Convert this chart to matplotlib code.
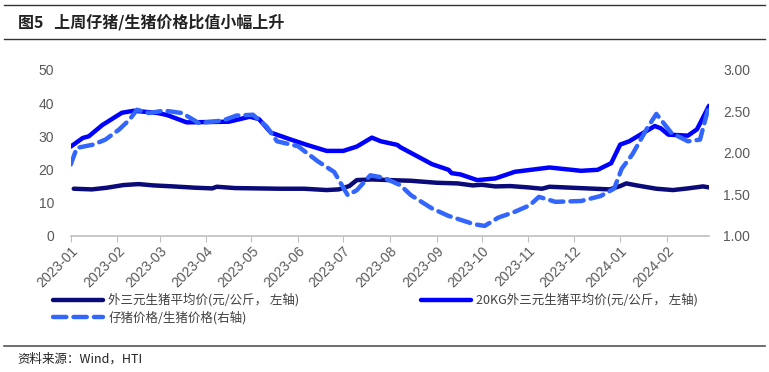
import matplotlib
matplotlib.use('Agg')
from matplotlib import pyplot as plt
import matplotlib.dates as mdates
import pandas as pd

plt.rcParams['font.family'] = ['Noto Sans CJK SC', 'DejaVu Sans']

# 外三元生猪平均价 (元/公斤, 左轴)
pig_dates = ['2023-01-03', '2023-01-15', '2023-01-25', '2023-02-05', '2023-02-15', '2023-02-25',
             '2023-03-10', '2023-03-25', '2023-04-05', '2023-04-08', '2023-04-20', '2023-05-05',
             '2023-05-20', '2023-06-05', '2023-06-20', '2023-06-28', '2023-07-05', '2023-07-10',
             '2023-07-20', '2023-08-01', '2023-08-15', '2023-09-01', '2023-09-15', '2023-09-25',
             '2023-10-01', '2023-10-10', '2023-10-20', '2023-11-01', '2023-11-10', '2023-11-15',
             '2023-11-25', '2023-12-10', '2023-12-25', '2024-01-01', '2024-01-05', '2024-01-12',
             '2024-01-25', '2024-02-05', '2024-02-15', '2024-02-25', '2024-02-29']
pig_price = [14.2, 14.0, 14.5, 15.3, 15.6, 15.2,
             14.9, 14.5, 14.3, 14.8, 14.4, 14.3,
             14.2, 14.2, 13.8, 14.0, 15.0, 16.8,
             17.0, 16.8, 16.6, 16.0, 15.8, 15.2,
             15.4, 14.9, 15.0, 14.6, 14.2, 14.8,
             14.6, 14.3, 14.0, 15.0, 15.8, 15.2,
             14.2, 13.8, 14.3, 14.9, 14.6]

# 20KG外三元生猪平均价 (元/公斤, 左轴)
kg20_dates = ['2023-01-01', '2023-01-09', '2023-01-13', '2023-01-22', '2023-02-04', '2023-02-12',
              '2023-02-28', '2023-03-06', '2023-03-19', '2023-04-16', '2023-04-30', '2023-05-06',
              '2023-05-14', '2023-05-28', '2023-06-07', '2023-06-20', '2023-07-01', '2023-07-10',
              '2023-07-20', '2023-07-26', '2023-08-06', '2023-08-08', '2023-08-29', '2023-09-09',
              '2023-09-11', '2023-09-17', '2023-09-28', '2023-10-10', '2023-10-23', '2023-11-15',
              '2023-12-06', '2023-12-17', '2023-12-26', '2024-01-01', '2024-01-07', '2024-01-24',
              '2024-01-28', '2024-02-02', '2024-02-15', '2024-02-21', '2024-02-29']
kg20_price = [26.9, 29.5, 30.0, 33.4, 37.1, 37.7,
              37.0, 36.4, 34.2, 34.4, 35.9, 35.2,
              31.1, 28.9, 27.4, 25.6, 25.6, 26.9,
              29.6, 28.5, 27.4, 26.7, 21.6, 19.9,
              18.9, 18.5, 16.8, 17.3, 19.3, 20.6,
              19.6, 19.9, 21.9, 27.5, 28.5, 33.1,
              32.4, 30.5, 30.2, 32.1, 39.2]

# 仔猪价格/生猪价格 (右轴)
ratio_dates = ['2023-01-01', '2023-01-05', '2023-01-16', '2023-01-24', '2023-02-02', '2023-02-09',
               '2023-02-14', '2023-02-22', '2023-03-04', '2023-03-16', '2023-03-27', '2023-04-12',
               '2023-04-21', '2023-05-02', '2023-05-11', '2023-05-18', '2023-06-01', '2023-06-14',
               '2023-06-25', '2023-07-04', '2023-07-10', '2023-07-19', '2023-07-28', '2023-08-08',
               '2023-08-15', '2023-08-29', '2023-09-09', '2023-09-26', '2023-10-03', '2023-10-12',
               '2023-10-23', '2023-11-02', '2023-11-08', '2023-11-19', '2023-12-06', '2023-12-19',
               '2023-12-28', '2024-01-02', '2024-01-09', '2024-01-19', '2024-01-25', '2024-02-04',
               '2024-02-15', '2024-02-23', '2024-02-29']
ratio = [1.86, 2.06, 2.10, 2.16, 2.28, 2.40,
         2.52, 2.48, 2.51, 2.48, 2.36, 2.39,
         2.45, 2.46, 2.32, 2.14, 2.08, 1.90,
         1.77, 1.49, 1.55, 1.73, 1.70, 1.61,
         1.49, 1.33, 1.24, 1.14, 1.12, 1.22,
         1.29, 1.37, 1.47, 1.41, 1.42, 1.48,
         1.57, 1.81, 1.98, 2.30, 2.47, 2.24,
         2.14, 2.16, 2.57]

gray = '#595959'
tick_font = ['Liberation Sans', 'DejaVu Sans']

fig = plt.figure(figsize=(7.69, 3.72), dpi=100)
ax = fig.add_axes([0.092, 0.366, 0.830, 0.446])
ax2 = ax.twinx()

l1, = ax.plot(pd.to_datetime(pig_dates), pig_price, color='#0A0A78', lw=3.2,
              solid_capstyle='round', label='外三元生猪平均价(元/公斤， 左轴)')
l2, = ax.plot(pd.to_datetime(kg20_dates), kg20_price, color='#0000FF', lw=3.2,
              solid_capstyle='round', label='20KG外三元生猪平均价(元/公斤， 左轴)')
l3, = ax2.plot(pd.to_datetime(ratio_dates), ratio, color='#3366FF', lw=3.2,
               linestyle=(0, (3, 1.6)), dash_capstyle='round', label='仔猪价格/生猪价格(右轴)')

ax.set_ylim(0, 50)
ax.set_yticks(range(0, 51, 10))
ax2.set_ylim(1, 3)
ax2.set_yticks([1.0, 1.5, 2.0, 2.5, 3.0])
ax2.set_yticklabels(['%.2f' % v for v in [1.0, 1.5, 2.0, 2.5, 3.0]])
ax.set_xlim(pd.Timestamp('2023-01-01'), pd.Timestamp('2024-02-29'))
ax.xaxis.set_major_locator(mdates.MonthLocator())
ax.xaxis.set_major_formatter(mdates.DateFormatter('%Y-%m'))

for a in (ax, ax2):
    for s in a.spines.values():
        s.set_visible(False)
ax.spines['bottom'].set_visible(True)
ax.spines['bottom'].set_color('#BFBFBF')
ax.spines['bottom'].set_linewidth(1.2)

ax.tick_params(axis='y', length=0, pad=12, labelsize=10, labelcolor=gray)
ax2.tick_params(axis='y', length=0, pad=10, labelsize=10, labelcolor=gray)
ax.tick_params(axis='x', length=4, color='#BFBFBF', direction='out', labelsize=10,
               labelcolor=gray, pad=2)
for lab in ax.get_xticklabels():
    lab.set_rotation(45)
    lab.set_ha('right')
    lab.set_rotation_mode('anchor')
for lab in ax.get_xticklabels() + ax.get_yticklabels() + ax2.get_yticklabels():
    lab.set_family(tick_font)

# column-wise fill: first column gets l1 and l3, second column gets l2
fig.legend(handles=[l1, l3, l2], loc='upper left', bbox_to_anchor=(0.063, 0.225), ncol=2,
           frameon=False, fontsize=9, handlelength=4.0, handletextpad=0.4,
           columnspacing=9.7, labelspacing=0.35, labelcolor='#404040', borderaxespad=0)

fig.text(0.023, 0.94, '图5   上周仔猪/生猪价格比值小幅上升', fontsize=11.5, fontweight='bold',
         color='#222222', va='center')
fig.add_artist(plt.Line2D([0.005, 0.995], [0.987, 0.987], color='#333333', lw=1))
fig.add_artist(plt.Line2D([0.005, 0.995], [0.895, 0.895], color='#333333', lw=1))
fig.add_artist(plt.Line2D([0.005, 0.995], [0.07, 0.07], color='#555555', lw=1.2))
fig.text(0.023, 0.035, '资料来源：Wind，HTI', fontsize=9, color='#222222', va='center')

fig.savefig('out.png', dpi=100)
